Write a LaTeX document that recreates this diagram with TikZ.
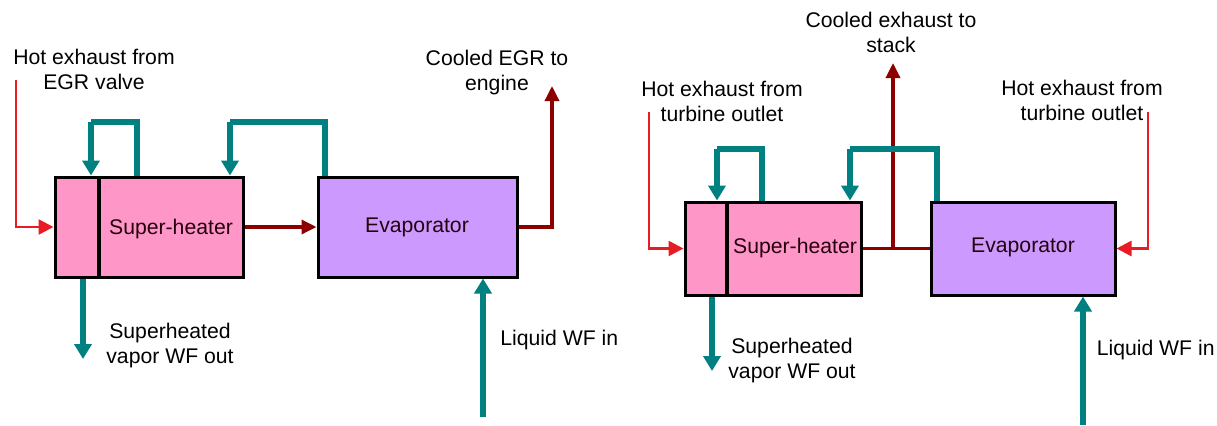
\documentclass[tikz,border=0pt]{standalone}
\usepackage{fontspec}
\setmainfont{Liberation Sans}
\usetikzlibrary{arrows.meta}
\definecolor{wfteal}{RGB}{0,128,128}
\definecolor{hotred}{RGB}{232,28,36}
\definecolor{coolred}{RGB}{140,0,0}
\definecolor{shpink}{RGB}{255,150,200}
\definecolor{evpurple}{RGB}{204,153,255}
\begin{document}
\begin{tikzpicture}[x=0.5pt, y=-0.5pt,
    every node/.style={font=\fontsize{10.6}{12.5}\selectfont, align=center, inner sep=0pt},
    shbox/.style={draw, line width=1.5pt, fill=shpink},
    evbox/.style={draw, line width=1.5pt, fill=evpurple},
    wf/.style={wfteal, line width=2.6pt, -{Triangle[width=8.5pt,length=7.5pt]}},
    wfloop/.style={wfteal, line width=2.6pt},
    hot/.style={hotred, line width=1.3pt, -{Triangle[width=7.5pt,length=7.5pt]}},
    cool/.style={coolred, line width=1.7pt, -{Triangle[width=7pt,length=7.5pt]}}]
  \useasboundingbox (0,0) rectangle (1217,425);
  % left: EGR cooler
  \node[shbox, minimum width=94pt, minimum height=50pt] (sh1) at (149,227) {};
  \draw[line width=2pt] (sh1.north -| 99,0) -- (sh1.south -| 99,0);
  \node[text=black!80!purple] (sh1txt) at (171,229) {Super-heater};
  \node[evbox, minimum width=99.5pt, minimum height=50pt] (ev1) at (417.5,227) {};
  \node[text=black!80!purple] (ev1txt) at (417,227) {Evaporator};
  \coordinate (hin1) at (16,80);
  \coordinate (cout1) at (552,86);
  \coordinate (vout1) at (83,359);
  \coordinate (lin1) at (483,417);
  \node (hin1txt) at (94,69) {Hot exhaust from\\EGR valve};
  \node (cout1txt) at (497,73) {Cooled EGR to\\engine};
  \node (vout1txt) at (170,346) {Superheated\\vapor WF out};
  \node[anchor=west] (lin1txt) at (500,340) {Liquid WF in};
  \draw[hot] (hin1) |- (sh1.west);
  \draw[cool] (sh1) -- (ev1);
  \draw[cool] (ev1.east) -| (cout1);
  \draw[wfloop] (sh1.north -| 137,0) -- (137,122) -- (91,122);
  \draw[wf] (91,122) -- (sh1.north -| 91,0);
  \draw[wfloop] (ev1.north -| 325,0) -- (325,122) -- (230,122);
  \draw[wf] (230,122) -- (sh1.north -| 230,0);
  \draw[wf] (sh1.south -| vout1) -- (vout1);
  \draw[wf] (lin1) -- (ev1.south -| lin1);
  % right: turbine exhaust
  \node[shbox, minimum width=88pt, minimum height=46.5pt] (sh2) at (773,248.5) {};
  \draw[line width=2pt] (sh2.north -| 727,0) -- (sh2.south -| 727,0);
  \node[text=black!80!purple] (sh2txt) at (795,248) {Super-heater};
  \node[evbox, minimum width=92pt, minimum height=46.5pt] (ev2) at (1023,248.5) {};
  \node[text=black!80!purple] (ev2txt) at (1023,247) {Evaporator};
  \coordinate (hin2) at (649,112);
  \coordinate (hin3) at (1148,112);
  \coordinate (tee) at (893,248.5);
  \coordinate (cout2) at (893,63);
  \coordinate (vout2) at (712,371);
  \coordinate (lin2) at (1083,425);
  \node (cout2txt) at (891,32) {Cooled exhaust to\\stack};
  \node (hin2txt) at (722,101) {Hot exhaust from\\turbine outlet};
  \node (hin3txt) at (1082,100) {Hot exhaust from\\turbine outlet};
  \node (vout2txt) at (792,361) {Superheated\\vapor WF out};
  \node[anchor=east] (lin2txt) at (1215,350) {Liquid WF in};
  \draw[hot] (hin2) |- (sh2.west);
  \draw[hot] (hin3) |- (ev2.east);
  \draw[cool, -] (sh2) -- (ev2);
  \draw[cool] (tee) -- (cout2);
  \draw[wfloop] (sh2.north -| 762,0) -- (762,149) -- (717,149);
  \draw[wf] (717,149) -- (sh2.north -| 717,0);
  \draw[wfloop] (ev2.north -| 937,0) -- (937,149) -- (850,149);
  \draw[wf] (850,149) -- (sh2.north -| 850,0);
  \draw[wf] (sh2.south -| vout2) -- (vout2);
  \draw[wf] (lin2) -- (ev2.south -| lin2);
\end{tikzpicture}
\end{document}
